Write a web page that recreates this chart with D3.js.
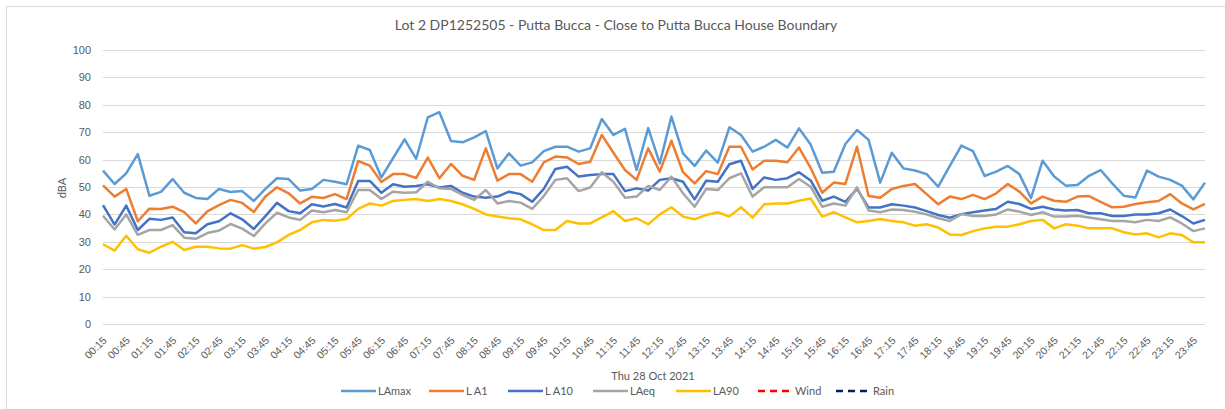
<!DOCTYPE html>
<html>
<head>
<meta charset="utf-8">
<script src="https://cdn.jsdelivr.net/npm/d3@7"></script>
<style>
  body { margin: 0; background: #fff; }
  svg { font-family: Lato, "Liberation Sans", sans-serif; }
  .grid line { stroke: #d9d9d9; stroke-width: 1; }
  .axis text { fill: #595959; }
</style>
</head>
<body>
<div id="chart"></div>
<script>
// DATA ------------------------------
const times = [
  "00:15","00:30","00:45","01:00","01:15","01:30","01:45","02:00","02:15","02:30","02:45","03:00",
  "03:15","03:30","03:45","04:00","04:15","04:30","04:45","05:00","05:15","05:30","05:45","06:00",
  "06:15","06:30","06:45","07:00","07:15","07:30","07:45","08:00","08:15","08:30","08:45","09:00",
  "09:15","09:30","09:45","10:00","10:15","10:30","10:45","11:00","11:15","11:30","11:45","12:00",
  "12:15","12:30","12:45","13:00","13:15","13:30","13:45","14:00","14:15","14:30","14:45","15:00",
  "15:15","15:30","15:45","16:00","16:15","16:30","16:45","17:00","17:15","17:30","17:45","18:00",
  "18:15","18:30","18:45","19:00","19:15","19:30","19:45","20:00","20:15","20:30","20:45","21:00",
  "21:15","21:30","21:45","22:00","22:15","22:30","22:45","23:00","23:15","23:30","23:45","00:00"
];

const laMax = [
  56.0, 51.1, 55.0, 62.0, 46.8, 48.2, 52.9, 47.9, 46.0, 45.6, 49.3, 48.2, 48.5, 44.9, 49.3, 53.2,
  52.9, 48.7, 49.3, 52.6, 51.9, 51.0, 65.1, 63.5, 53.5, 60.5, 67.4, 60.3,
  75.4, 77.3, 66.8, 66.3, 68.1, 70.4, 56.8, 62.3, 57.8, 59.0, 63.1, 64.7, 64.7, 62.9, 64.1, 74.8,
  69.0, 71.2, 56.2, 71.5, 58.6, 75.7, 62.3, 57.7, 63.3, 58.9, 71.8, 69.0, 62.9, 64.7, 67.2, 64.4,
  71.4, 65.5,
  55.2, 55.6, 65.7, 70.8, 67.2, 51.6, 62.5, 56.8, 56.0, 54.7, 50.1, 57.7, 65.1, 63.1, 54.0, 55.6,
  57.7, 54.7, 45.9, 59.6, 53.8, 50.5, 50.7, 54.1, 56.2, 51.3, 46.8, 46.2, 56.0, 53.8, 52.6, 50.5,
  45.5, 51.6
];

const la1 = [
  50.6, 46.5, 49.3, 37.5, 42.1, 42.0, 42.8, 40.8, 36.7, 41.1, 43.4, 45.3, 44.2, 40.9, 46.5, 49.9,
  47.7, 44.0, 46.4, 46.0, 47.4, 45.6, 59.5, 57.8, 51.8, 54.7, 54.7, 53.3,
  60.7, 53.2, 58.4, 54.1, 52.6, 64.1, 52.3, 54.7, 54.7, 51.9, 59.0, 61.1, 60.8, 58.4, 59.2, 69.0,
  62.5, 56.2, 52.6, 64.1, 55.6, 66.9, 55.4, 51.3, 55.8, 54.7, 64.7, 64.7, 56.4, 59.6, 59.6, 59.0,
  64.4, 57.0,
  47.9, 51.6, 51.1, 64.7, 46.7, 46.1, 49.3, 50.4, 51.1, 47.4, 43.7, 46.5, 45.6, 47.1, 45.6, 47.7,
  51.1, 48.3, 44.0, 46.5, 45.0, 44.6, 46.5, 46.7, 44.6, 42.6, 42.8, 43.8, 44.4, 44.9, 47.4, 44.0,
  41.8, 43.8
];

const la10 = [
  43.4, 36.3, 43.2, 34.3, 38.4, 38.0, 38.9, 33.5, 33.1, 36.4, 37.5, 40.4, 38.2, 34.7, 39.4, 44.2,
  41.2, 40.4, 43.7, 42.9, 43.8, 42.5, 52.2, 52.2, 47.9, 51.0, 50.1, 50.4,
  51.0, 49.8, 50.4, 47.9, 46.5, 46.1, 46.5, 48.3, 47.4, 44.6, 49.3, 56.6, 57.4, 53.8, 54.4, 54.7,
  54.7, 48.5, 49.5, 48.7, 52.6, 53.2, 51.9, 45.5, 52.3, 51.9, 58.3, 59.6, 49.3, 53.5, 52.6, 53.2,
  55.4, 52.4,
  45.0, 46.5, 44.6, 49.3, 42.5, 42.5, 43.7, 43.2, 42.5, 41.2, 39.8, 38.8, 40.1, 40.8, 41.4, 42.0,
  44.6, 43.8, 42.0, 42.8, 41.8, 41.4, 41.6, 40.4, 40.4, 39.4, 39.4, 40.0, 40.0, 40.4, 41.8, 39.4,
  36.7, 38.0
];

const laEq = [
  39.5, 34.5, 40.0, 32.5, 34.3, 34.3, 36.1, 31.5, 31.1, 33.2, 34.1, 36.5, 34.8, 32.1, 36.7, 40.6,
  38.9, 38.0, 41.4, 40.8, 41.6, 40.8, 48.9, 48.9, 45.6, 48.3, 47.9, 48.1,
  51.9, 49.5, 49.3, 47.1, 45.3, 48.9, 44.0, 44.9, 44.3, 42.0, 46.7, 52.6, 53.2, 48.5, 49.8, 55.4,
  51.9, 46.1, 46.5, 50.4, 48.9, 53.8, 47.7, 42.8, 49.3, 48.9, 53.2, 55.0, 46.5, 49.9, 49.9, 49.9,
  52.9, 50.1,
  42.8, 44.0, 43.2, 49.9, 41.4, 40.8, 41.8, 41.6, 41.0, 40.0, 38.6, 37.6, 40.1, 39.4, 39.4, 40.0,
  41.8, 41.0, 39.8, 40.8, 39.2, 39.2, 39.5, 38.9, 38.2, 37.6, 37.6, 37.1, 38.0, 37.6, 38.9, 36.7,
  33.9, 34.9
];

const la90 = [
  29.1, 26.8, 32.2, 27.3, 26.0, 28.2, 30.0, 27.0, 28.2, 28.2, 27.6, 27.5, 28.8, 27.5, 28.1, 29.8,
  32.5, 34.3, 37.1, 38.0, 37.7, 38.3, 42.0, 44.0, 43.2, 44.9, 45.3, 45.6,
  44.9, 45.6, 44.9, 43.7, 42.0, 40.0, 39.2, 38.6, 38.2, 36.4, 34.3, 34.3, 37.6, 36.7, 36.7, 38.9,
  41.2, 37.6, 38.6, 36.4, 40.0, 42.6, 39.2, 38.2, 39.8, 40.8, 39.2, 42.6, 38.8, 43.7, 44.0, 44.0,
  45.0, 45.8,
  39.2, 40.8, 38.9, 37.1, 37.6, 38.3, 37.6, 37.1, 35.9, 36.4, 35.2, 32.7, 32.5, 33.9, 34.9, 35.5,
  35.5, 36.4, 37.6, 38.0, 34.9, 36.4, 35.9, 34.9, 34.9, 34.9, 33.5, 32.7, 33.1, 31.6, 33.1, 32.5,
  29.8, 29.8
];

// no readings recorded for these two
const wind = [];
const rain = [];

const yTicks = [0, 10, 20, 30, 40, 50, 60, 70, 80, 90, 100];

const series = [
  { name: "LAmax", values: laMax, color: "#5b9bd5", dash: null },
  { name: "L A1",  values: la1,   color: "#ed7d31", dash: null },
  { name: "L A10", values: la10,  color: "#4472c4", dash: null },
  { name: "LAeq",  values: laEq,  color: "#a5a5a5", dash: null },
  { name: "LA90",  values: la90,  color: "#ffc000", dash: null },
  { name: "Wind",  values: wind,  color: "#ff0000", dash: "7,5" },
  { name: "Rain",  values: rain,  color: "#002060", dash: "7,5" }
];

// CHART ------------------------------
const W = 1225, H = 409;
const margin = { top: 50, right: 20, bottom: 85, left: 103 };

const svg = d3.select("#chart").append("svg")
  .attr("width", W)
  .attr("height", H);

// outer chart border
svg.append("rect")
  .attr("x", 6.5).attr("y", 6.5)
  .attr("width", W).attr("height", H)
  .attr("fill", "#fff")
  .attr("stroke", "#d9d9d9");

const xScale = d3.scalePoint()
  .domain(times)
  .range([margin.left, 1205]);

const yScale = d3.scaleLinear()
  .domain([0, 100])
  .range([324, 50]);

// gridlines
svg.append("g")
  .attr("class", "grid")
  .selectAll("line")
  .data(yTicks)
  .enter()
  .append("line")
  .attr("x1", margin.left)
  .attr("x2", 1205)
  .attr("y1", d => Math.round(yScale(d)) + 0.5)
  .attr("y2", d => Math.round(yScale(d)) + 0.5);

// y axis labels
const yAxis = d3.axisLeft(yScale)
  .tickValues(yTicks)
  .tickSize(0)
  .tickPadding(12);

svg.append("g")
  .attr("class", "axis y-axis")
  .attr("transform", `translate(${margin.left}, 0)`)
  .call(yAxis)
  .call(g => g.select(".domain").remove())
  .selectAll("text")
  .style("font-size", "11px");

// x axis, every other category labelled
const xAxis = d3.axisBottom(xScale)
  .tickValues(times.filter((t, i) => i % 2 === 0))
  .tickSize(0)
  .tickPadding(0);

svg.append("g")
  .attr("class", "axis x-axis")
  .attr("transform", `translate(0, 324)`)
  .call(xAxis)
  .call(g => g.select(".domain").remove())
  .selectAll("text")
  .style("font-size", "10.5px")
  .style("text-anchor", "end")
  .attr("dy", "0")
  .attr("transform", "translate(4, 17) rotate(-45)");

// lines
const line = d3.line()
  .x((d, i) => xScale(times[i]))
  .y(d => yScale(d));

svg.append("g")
  .selectAll("path")
  .data(series.filter(s => s.values.length))
  .enter()
  .append("path")
  .attr("fill", "none")
  .attr("stroke", d => d.color)
  .attr("stroke-width", 2.5)
  .attr("stroke-linejoin", "round")
  .attr("d", d => line(d.values));

// titles
svg.append("text")
  .attr("x", 616).attr("y", 30)
  .attr("text-anchor", "middle")
  .attr("fill", "#595959")
  .style("font-size", "14px")
  .text("Lot 2 DP1252505 - Putta Bucca - Close to Putta Bucca House Boundary");

svg.append("text")
  .attr("transform", "translate(66, 188) rotate(-90)")
  .attr("text-anchor", "middle")
  .attr("fill", "#595959")
  .style("font-size", "11px")
  .text("dBA");

svg.append("text")
  .attr("x", 653).attr("y", 380)
  .attr("text-anchor", "middle")
  .attr("fill", "#595959")
  .style("font-size", "11px")
  .text("Thu 28 Oct 2021");

// legend
const legendX = [341, 429, 508, 593, 676, 758, 836];
const legend = svg.append("g")
  .selectAll("g")
  .data(series)
  .enter()
  .append("g")
  .attr("transform", (d, i) => `translate(${legendX[i]}, 391)`);

legend.append("line")
  .attr("x1", 0).attr("x2", 35)
  .attr("stroke", d => d.color)
  .attr("stroke-width", 2.5)
  .attr("stroke-dasharray", d => d.dash);

legend.append("text")
  .attr("x", 37)
  .attr("y", 4)
  .attr("fill", "#595959")
  .style("font-size", "11px")
  .text(d => d.name);
</script>
</body>
</html>
